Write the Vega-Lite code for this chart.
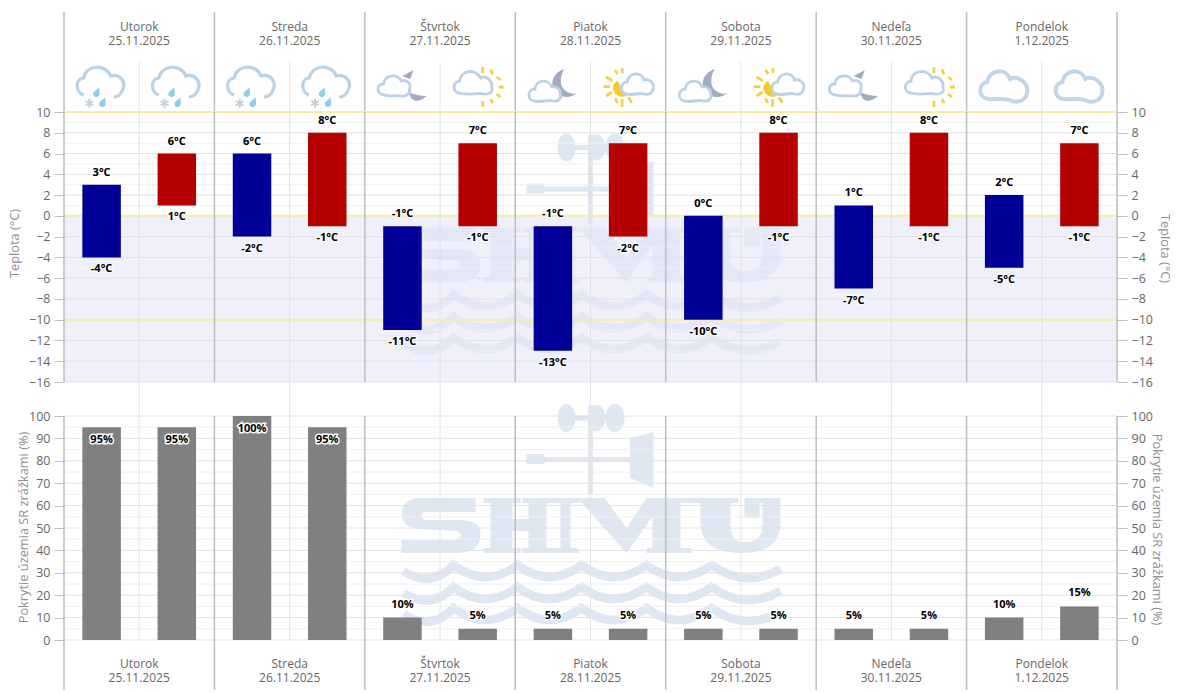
{"$schema":"https://vega.github.io/schema/vega-lite/v6.json","padding":{"left":8,"top":11,"right":0,"bottom":0},"background":"white","spacing":0,"bounds":"flush","config":{"view":{"stroke":null},"font":"Open Sans","axis":{"labelFont":"Open Sans","titleFont":"Open Sans","labelFontSize":12.5,"labelColor":"#666666","titleColor":"#8f8f8f","titleFontSize":12.8,"titleFontWeight":"normal","tickColor":"#c0c0c0","tickSize":10,"labelPadding":4,"domain":false,"grid":false,"labelOverlap":false},"text":{"font":"Open Sans"}},"datasets":{"slots":[{"t":"2025-11-25T06:00:00Z","part":"noc","min":-4,"max":3,"hi":"3°C","lo":"-4°C","cover":95,"pct":"95%","icon":"rainsnow"},{"t":"2025-11-25T18:00:00Z","part":"den","min":1,"max":6,"hi":"6°C","lo":"1°C","cover":95,"pct":"95%","icon":"rainsnow"},{"t":"2025-11-26T06:00:00Z","part":"noc","min":-2,"max":6,"hi":"6°C","lo":"-2°C","cover":100,"pct":"100%","icon":"rainsnow"},{"t":"2025-11-26T18:00:00Z","part":"den","min":-1,"max":8,"hi":"8°C","lo":"-1°C","cover":95,"pct":"95%","icon":"rainsnow"},{"t":"2025-11-27T06:00:00Z","part":"noc","min":-11,"max":-1,"hi":"-1°C","lo":"-11°C","cover":10,"pct":"10%","icon":"cloudmoon"},{"t":"2025-11-27T18:00:00Z","part":"den","min":-1,"max":7,"hi":"7°C","lo":"-1°C","cover":5,"pct":"5%","icon":"cloudsun"},{"t":"2025-11-28T06:00:00Z","part":"noc","min":-13,"max":-1,"hi":"-1°C","lo":"-13°C","cover":5,"pct":"5%","icon":"moon"},{"t":"2025-11-28T18:00:00Z","part":"den","min":-2,"max":7,"hi":"7°C","lo":"-2°C","cover":5,"pct":"5%","icon":"sun"},{"t":"2025-11-29T06:00:00Z","part":"noc","min":-10,"max":0,"hi":"0°C","lo":"-10°C","cover":5,"pct":"5%","icon":"moon"},{"t":"2025-11-29T18:00:00Z","part":"den","min":-1,"max":8,"hi":"8°C","lo":"-1°C","cover":5,"pct":"5%","icon":"sun"},{"t":"2025-11-30T06:00:00Z","part":"noc","min":-7,"max":1,"hi":"1°C","lo":"-7°C","cover":5,"pct":"5%","icon":"cloudmoon"},{"t":"2025-11-30T18:00:00Z","part":"den","min":-1,"max":8,"hi":"8°C","lo":"-1°C","cover":5,"pct":"5%","icon":"cloudsun"},{"t":"2025-12-01T06:00:00Z","part":"noc","min":-5,"max":2,"hi":"2°C","lo":"-5°C","cover":10,"pct":"10%","icon":"cloud"},{"t":"2025-12-01T18:00:00Z","part":"den","min":-1,"max":7,"hi":"7°C","lo":"-1°C","cover":15,"pct":"15%","icon":"cloud"}],"days":[{"t":"2025-11-25T12:00:00Z","label":"Utorok|25.11.2025"},{"t":"2025-11-26T12:00:00Z","label":"Streda|26.11.2025"},{"t":"2025-11-27T12:00:00Z","label":"Štvrtok|27.11.2025"},{"t":"2025-11-28T12:00:00Z","label":"Piatok|28.11.2025"},{"t":"2025-11-29T12:00:00Z","label":"Sobota|29.11.2025"},{"t":"2025-11-30T12:00:00Z","label":"Nedeľa|30.11.2025"},{"t":"2025-12-01T12:00:00Z","label":"Pondelok|1.12.2025"}],"edges":[{"t":"2025-11-25T00:00:00Z"},{"t":"2025-11-26T00:00:00Z"},{"t":"2025-11-27T00:00:00Z"},{"t":"2025-11-28T00:00:00Z"},{"t":"2025-11-29T00:00:00Z"},{"t":"2025-11-30T00:00:00Z"},{"t":"2025-12-01T00:00:00Z"},{"t":"2025-12-02T00:00:00Z"}],"tempMinor":[{"y":9},{"y":7},{"y":5},{"y":3},{"y":1},{"y":-1},{"y":-3},{"y":-5},{"y":-7},{"y":-9},{"y":-11},{"y":-13},{"y":-15}],"tempMajor":[{"y":10},{"y":8},{"y":6},{"y":4},{"y":2},{"y":0},{"y":-2},{"y":-4},{"y":-6},{"y":-8},{"y":-10},{"y":-12},{"y":-14},{"y":-16}],"coverMinor":[{"y":5},{"y":15},{"y":25},{"y":35},{"y":45},{"y":55},{"y":65},{"y":75},{"y":85},{"y":95}],"coverMajor":[{"y":0},{"y":10},{"y":20},{"y":30},{"y":40},{"y":50},{"y":60},{"y":70},{"y":80},{"y":90},{"y":100}]},"vconcat":[{"width":1053,"height":50,"layer":[{"data":{"name":"edges"},"mark":{"type":"rule","color":"#bdbdbd","strokeWidth":1.5},"encoding":{"x":{"field":"t","type":"temporal","scale":{"type":"utc","padding":0,"domain":["2025-11-25T00:00:00Z","2025-12-02T00:00:00Z"]},"axis":{"orient":"bottom","labels":false,"ticks":false,"domain":true,"domainColor":"#bdbdbd","domainWidth":1.5,"title":null}}}},{"data":{"name":"days"},"mark":{"type":"text","lineBreak":"|","lineHeight":14,"fontSize":12,"color":"#666666","dy":-10},"encoding":{"x":{"field":"t","type":"temporal","scale":{"type":"utc"},"axis":null},"text":{"field":"label"}}}]},{"width":1053,"height":50,"data":{"name":"slots"},"layer":[{"data":{"name":"edges"},"mark":{"type":"rule","color":"#bdbdbd","strokeWidth":1.5},"encoding":{"x":{"field":"t","type":"temporal","scale":{"type":"utc","padding":0,"domain":["2025-11-25T00:00:00Z","2025-12-02T00:00:00Z"]},"axis":null}}},{"data":{"name":"days"},"mark":{"type":"rule","color":"#e4e4e4","strokeWidth":1},"encoding":{"x":{"field":"t","type":"temporal","scale":{"type":"utc"},"axis":null}}},{"transform":[{"filter":"datum.icon=='cloudsun'"}],"mark":{"type":"point","size":4,"filled":false,"stroke":"#f2d14b","strokeWidth":2.8,"opacity":1,"shape":"M5,-20 L5,-14 M13,-17.5 L15,-12.5 M19,-10 L23,-7 M21,0 L26,0 M19,7 L23,10 M13,12 L15,16 M5,14 L5,20"},"encoding":{"x":{"field":"t","type":"temporal","scale":{"type":"utc"},"axis":null}}},{"transform":[{"filter":"datum.icon=='sun'"}],"mark":{"type":"point","size":4,"filled":false,"stroke":"#f2d14b","strokeWidth":2.8,"opacity":1,"shape":"M-24.7,-0.3 L-18,-0.3 M-22,-10 L-15.7,-6.3 M-13,-17 L-10.3,-13 M-5.7,-18.7 L-5.7,-13.7 M-22,9 L-16,5 M-13,11.3 L-10.7,16 M-6,12.3 L-6,19.7 M0.3,10.3 L3.7,15.7"},"encoding":{"x":{"field":"t","type":"temporal","scale":{"type":"utc"},"axis":null}}},{"transform":[{"filter":"datum.icon=='sun'"}],"mark":{"type":"point","size":4,"filled":true,"fill":"#f5ca2c","strokeWidth":0,"opacity":1,"shape":"M-10.7,-6.3 L-1.3,9 C-7,11 -13,9 -15,3 C-16,-1 -14,-4 -10.7,-6.3Z"},"encoding":{"x":{"field":"t","type":"temporal","scale":{"type":"utc"},"axis":null}}},{"transform":[{"filter":"datum.icon=='cloudmoon'"}],"mark":{"type":"point","size":4,"filled":true,"fill":"#a3abc3","strokeWidth":0,"opacity":1,"shape":"M0,-11 L11,-17 L7.7,-7.7 Z M6.7,5.3 C12,8 18,9 24.3,9 C20,13 16,14 12.7,13.7 C9,13 7,9 6.7,5.3 Z"},"encoding":{"x":{"field":"t","type":"temporal","scale":{"type":"utc"},"axis":null}}},{"transform":[{"filter":"datum.icon=='moon'"}],"mark":{"type":"point","size":4,"filled":true,"fill":"#a3abc3","strokeWidth":0,"opacity":1,"shape":"M11.3,-17.7 C1,-15 -3,-5 1,3 C5,11 17,12 24,6.3 C16,8 9,3 8,-4 C7.5,-9 9,-14 11.3,-17.7 Z"},"encoding":{"x":{"field":"t","type":"temporal","scale":{"type":"utc"},"axis":null}}},{"transform":[{"filter":"datum.icon=='rainsnow'"}],"mark":{"type":"point","size":4,"filled":false,"stroke":"#b9d2e6","strokeWidth":3.2,"opacity":1,"shape":"M-18,8 C-26,6 -27,-8 -18,-9 C-16,-22 4,-24 9,-11 C18,-14 25,-5 21,3 C19,8 16,10 12,10"},"encoding":{"x":{"field":"t","type":"temporal","scale":{"type":"utc"},"axis":null}}},{"transform":[{"filter":"datum.icon=='rainsnow'"}],"mark":{"type":"point","size":4,"filled":true,"fill":"#8fcde8","strokeWidth":0,"opacity":1,"shape":"M-2.5,0 C-2.5,4 -1,7 -3,9 C-5,11 -9,9.5 -8.5,6.5 C-8,4 -4.5,3 -2.5,0 Z M3.5,10 C3.5,14 5,17 3,19 C1,21 -3,19.5 -2.5,16.5 C-2,14 1.5,13 3.5,10 Z"},"encoding":{"x":{"field":"t","type":"temporal","scale":{"type":"utc"},"axis":null}}},{"transform":[{"filter":"datum.icon=='rainsnow'"}],"mark":{"type":"point","size":4,"filled":false,"stroke":"#c5cfdf","strokeWidth":2,"opacity":1,"shape":"M-12.3,11.8 L-12.3,20.8 M-16.2,14 L-8.4,18.5 M-16.2,18.5 L-8.4,14"},"encoding":{"x":{"field":"t","type":"temporal","scale":{"type":"utc"},"axis":null}}},{"transform":[{"filter":"datum.icon=='cloudmoon'"}],"mark":{"type":"point","size":4,"filled":true,"fill":"white","stroke":"#bcd1e4","strokeWidth":2.8,"opacity":1,"shape":"M-18,8 C-26,8 -27,-3 -19,-3 C-18,-12 -6,-14 -1,-6 C5,-8 9,-3 7,2 C8,7 3,10 -2,9 C-7,8 -12,10 -18,8 Z"},"encoding":{"x":{"field":"t","type":"temporal","scale":{"type":"utc"},"axis":null}}},{"transform":[{"filter":"datum.icon=='cloudsun'"}],"mark":{"type":"point","size":4,"filled":true,"fill":"white","stroke":"#bcd1e4","strokeWidth":2.8,"opacity":1,"shape":"M-18,6 C-25,6 -26,-5 -18,-6 C-17,-17 -2,-19 3,-9 C9,-12 15,-6 14,0 C16,5 11,8 6,7 C-1,5 -9,9 -18,6 Z"},"encoding":{"x":{"field":"t","type":"temporal","scale":{"type":"utc"},"axis":null}}},{"transform":[{"filter":"datum.icon=='moon'"}],"mark":{"type":"point","size":4,"filled":true,"fill":"white","stroke":"#bcd1e4","strokeWidth":2.8,"opacity":1,"shape":"M-18,14 C-26,14 -26,2 -18,2 C-17,-8 -4,-8 -1,0 C4,-1 8,3 7.5,7 C9,11 5,15 0,14 C-6,12 -12,16 -18,14 Z"},"encoding":{"x":{"field":"t","type":"temporal","scale":{"type":"utc"},"axis":null}}},{"transform":[{"filter":"datum.icon=='sun'"}],"mark":{"type":"point","size":4,"filled":true,"fill":"white","stroke":"#bcd1e4","strokeWidth":2.8,"opacity":1,"shape":"M-1,7 C-9,6 -8,-5 -1,-5 C1,-15 13,-16 16,-7 C21,-9 27,-3 25,2 C24,7 20,8 16,7 C10,5 5,9 -1,7 Z"},"encoding":{"x":{"field":"t","type":"temporal","scale":{"type":"utc"},"axis":null}}},{"transform":[{"filter":"datum.icon=='cloud'"}],"mark":{"type":"point","size":4,"filled":true,"fill":"white","stroke":"#c0d6e8","strokeWidth":4,"opacity":1,"shape":"M-15,12 C-26,12 -27,-3 -17,-5 C-15,-17 1,-20 6,-8 C14,-12 24,-4 23,4 C23,13 15,16 8,14 C0,10 -7,13 -15,12 Z"},"encoding":{"x":{"field":"t","type":"temporal","scale":{"type":"utc"},"axis":null}}}]},{"width":1053,"height":270,"resolve":{"axis":{"y":"independent"}},"layer":[{"data":{"values":[{"t":"2025-11-28T12:00:00Z","y":-4}]},"mark":{"type":"point","size":4,"filled":true,"fill":"#dfe7f3","strokeWidth":0,"opacity":1,"shape":"M-33,-110 C-33,-118 -29,-124 -24,-124 C-19,-124 -15,-118 -15,-110 C-15,-102 -19,-96 -24,-96 C-29,-96 -33,-102 -33,-110 Z M-3,-110 C-3,-117 1,-123 6,-123 C11,-123 15,-117 15,-110 C15,-103 11,-97 6,-97 C1,-97 -3,-103 -3,-110 Z M15,-110 C15,-118 19,-124 24.5,-124 C30,-124 34,-118 34,-110 C34,-102 30,-96 24.5,-96 C19,-96 15,-102 15,-110 Z M-24,-112.5 L24,-112.5 L24,-107.5 L-24,-107.5 Z M-2.5,-123 L2.5,-123 L2.5,-33 L-2.5,-33 Z M-64,-71 L40,-71 L40,-66 L-64,-66 Z M-64,-74 L-46,-74 L-46,-64 L-64,-64 Z M39.5,-90 L63,-96 L63,-40 L39.5,-50 Z M-170,-30 L-115,-30 L-115,-16 L-165,-16 C-170,-16 -170,-9 -165,-8 L-128,-8 C-112,-6 -110,0 -110,6 C-110,18 -118,25 -135,25 L-189,25 L-189,12 L-135,12 C-128,12 -128,3 -135,3 L-170,1 C-185,0 -189,-8 -189,-13 C-189,-24 -182,-30 -170,-30 Z M-107,-30 L-70,-30 L-70,-25 L-107,-25 Z M-100,-30 L-78,-30 L-78,25 L-100,25 Z M-107,20 L-70,20 L-70,25 L-107,25 Z M-68,-30 L-36,-30 L-36,-25 L-68,-25 Z M-62,-30 L-44,-30 L-44,25 L-62,25 Z M-68,20 L-36,20 L-36,25 L-68,25 Z M-78,-9 L-62,-9 L-62,3 L-78,3 Z M-37,-30 L-10,-30 L-10,-25 L-37,-25 Z M-30,-30 L-20,-30 L-20,25 L-30,25 Z M-37,20 L-12,20 L-12,25 L-37,25 Z M-13,-30 L14,-30 L36,0 L56,-30 L75,-30 L36,25 Z M62,-30 L90,-30 L90,25 L62,25 Z M56,-30 L100,-30 L100,-25 L56,-25 Z M56,20 L101,20 L101,25 L56,25 Z M100,-30 L148,-30 L148,-25 L100,-25 Z M110,-30 L140,-30 L140,-5 L110,-5 Z M165,-30 L190,-30 L190,-25 L165,-25 Z M172,-30 L190,-30 L190,-5 L172,-5 Z M154,-30 L169,-30 L169,-10 L154,-10 Z M110,-5 L140,-5 C140,10 145,14 155,14 C165,14 172,10 172,-5 L190,-5 C190,16 175,25 152,25 C125,25 110,16 110,-5 Z"},"encoding":{"x":{"field":"t","type":"temporal","scale":{"type":"utc","padding":0,"domain":["2025-11-25T00:00:00Z","2025-12-02T00:00:00Z"]},"axis":null},"y":{"field":"y","type":"quantitative","scale":{"domain":[-16,10],"nice":false,"zero":false},"axis":null}}},{"data":{"values":[{"t":"2025-11-28T12:00:00Z","y":-4}]},"mark":{"type":"point","size":4,"filled":false,"stroke":"#dfe7f3","strokeWidth":8.5,"opacity":1,"shape":"M-187,43 Q-160,61 -137,37 Q-105,61 -73,37 Q-41,61 -9,37 Q23,61 56,37 Q88,61 121,37 Q155,61 190,41 M-187,65 Q-160,83 -137,59 Q-105,83 -73,59 Q-41,83 -9,59 Q23,83 56,59 Q88,83 121,59 Q155,83 190,63 M-187,86 Q-160,104 -137,80 Q-105,104 -73,80 Q-41,104 -9,80 Q23,104 56,80 Q88,104 121,80 Q155,104 190,84"},"encoding":{"x":{"field":"t","type":"temporal","scale":{"type":"utc"},"axis":null},"y":{"field":"y","type":"quantitative","axis":null}}},{"data":{"values":[{"t":"2025-11-25T00:00:00Z","t2":"2025-12-02T00:00:00Z","y":0,"y2":-16}]},"mark":{"type":"rect","color":"#e6e6fa","opacity":0.62},"encoding":{"x":{"field":"t","type":"temporal","scale":{"type":"utc"},"axis":null},"x2":{"field":"t2"},"y":{"field":"y","type":"quantitative","axis":null},"y2":{"field":"y2"}}},{"data":{"name":"tempMinor"},"mark":{"type":"rule","color":"#f0f0f0","strokeWidth":1},"encoding":{"y":{"field":"y","type":"quantitative","axis":{"orient":"left","values":[10,8,6,4,2,0,-2,-4,-6,-8,-10,-12,-14,-16],"title":"Teplota (°C)","titleX":-43,"titleY":131}}}},{"data":{"name":"tempMajor"},"mark":{"type":"rule","color":"#e2e2e2","strokeWidth":1},"encoding":{"y":{"field":"y","type":"quantitative","axis":{"orient":"right","values":[10,8,6,4,2,0,-2,-4,-6,-8,-10,-12,-14,-16],"title":"Teplota (°C)","titleX":40,"titleY":136}}}},{"data":{"values":[{"y":10},{"y":0},{"y":-10}]},"mark":{"type":"rule","color":"#f6ef9f","strokeWidth":2},"encoding":{"y":{"field":"y","type":"quantitative","axis":null}}},{"data":{"name":"days"},"mark":{"type":"rule","color":"#e0e0e4","strokeWidth":1},"encoding":{"x":{"field":"t","type":"temporal","scale":{"type":"utc"},"axis":null}}},{"data":{"name":"edges"},"mark":{"type":"rule","color":"#bdbdbd","strokeWidth":1.5},"encoding":{"x":{"field":"t","type":"temporal","scale":{"type":"utc"},"axis":null}}},{"data":{"name":"slots"},"mark":{"type":"bar","width":38.5},"encoding":{"x":{"field":"t","type":"temporal","scale":{"type":"utc"},"axis":null},"y":{"field":"max","type":"quantitative","axis":null},"y2":{"field":"min"},"color":{"field":"part","type":"nominal","legend":null,"scale":{"domain":["noc","den"],"range":["#000099","#b50000"]}}}},{"data":{"name":"slots"},"mark":{"type":"text","fontSize":11,"fontWeight":"bold","dy":-12,"stroke":"white","strokeWidth":2.5,"strokeOpacity":0.8},"encoding":{"x":{"field":"t","type":"temporal","scale":{"type":"utc"},"axis":null},"y":{"field":"max","type":"quantitative","axis":null},"text":{"field":"hi"}}},{"data":{"name":"slots"},"mark":{"type":"text","fontSize":11,"fontWeight":"bold","dy":12,"stroke":"white","strokeWidth":2.5,"strokeOpacity":0.8},"encoding":{"x":{"field":"t","type":"temporal","scale":{"type":"utc"},"axis":null},"y":{"field":"min","type":"quantitative","axis":null},"text":{"field":"lo"}}},{"data":{"name":"slots"},"mark":{"type":"text","fontSize":11,"fontWeight":"bold","dy":-12,"color":"black"},"encoding":{"x":{"field":"t","type":"temporal","scale":{"type":"utc"},"axis":null},"y":{"field":"max","type":"quantitative","axis":null},"text":{"field":"hi"}}},{"data":{"name":"slots"},"mark":{"type":"text","fontSize":11,"fontWeight":"bold","dy":12,"color":"black"},"encoding":{"x":{"field":"t","type":"temporal","scale":{"type":"utc"},"axis":null},"y":{"field":"min","type":"quantitative","axis":null},"text":{"field":"lo"}}}]},{"width":1053,"height":34,"data":{"name":"days"},"mark":{"type":"rule","color":"#e4e4e4","strokeWidth":1},"encoding":{"x":{"field":"t","type":"temporal","scale":{"type":"utc","padding":0,"domain":["2025-11-25T00:00:00Z","2025-12-02T00:00:00Z"]},"axis":null}}},{"width":1053,"height":224,"resolve":{"axis":{"y":"independent"}},"layer":[{"data":{"values":[{"t":"2025-11-28T12:00:00Z","y":50}]},"mark":{"type":"point","size":4,"filled":true,"fill":"#dfe7f3","strokeWidth":0,"opacity":1,"shape":"M-33,-110 C-33,-118 -29,-124 -24,-124 C-19,-124 -15,-118 -15,-110 C-15,-102 -19,-96 -24,-96 C-29,-96 -33,-102 -33,-110 Z M-3,-110 C-3,-117 1,-123 6,-123 C11,-123 15,-117 15,-110 C15,-103 11,-97 6,-97 C1,-97 -3,-103 -3,-110 Z M15,-110 C15,-118 19,-124 24.5,-124 C30,-124 34,-118 34,-110 C34,-102 30,-96 24.5,-96 C19,-96 15,-102 15,-110 Z M-24,-112.5 L24,-112.5 L24,-107.5 L-24,-107.5 Z M-2.5,-123 L2.5,-123 L2.5,-33 L-2.5,-33 Z M-64,-71 L40,-71 L40,-66 L-64,-66 Z M-64,-74 L-46,-74 L-46,-64 L-64,-64 Z M39.5,-90 L63,-96 L63,-40 L39.5,-50 Z M-170,-30 L-115,-30 L-115,-16 L-165,-16 C-170,-16 -170,-9 -165,-8 L-128,-8 C-112,-6 -110,0 -110,6 C-110,18 -118,25 -135,25 L-189,25 L-189,12 L-135,12 C-128,12 -128,3 -135,3 L-170,1 C-185,0 -189,-8 -189,-13 C-189,-24 -182,-30 -170,-30 Z M-107,-30 L-70,-30 L-70,-25 L-107,-25 Z M-100,-30 L-78,-30 L-78,25 L-100,25 Z M-107,20 L-70,20 L-70,25 L-107,25 Z M-68,-30 L-36,-30 L-36,-25 L-68,-25 Z M-62,-30 L-44,-30 L-44,25 L-62,25 Z M-68,20 L-36,20 L-36,25 L-68,25 Z M-78,-9 L-62,-9 L-62,3 L-78,3 Z M-37,-30 L-10,-30 L-10,-25 L-37,-25 Z M-30,-30 L-20,-30 L-20,25 L-30,25 Z M-37,20 L-12,20 L-12,25 L-37,25 Z M-13,-30 L14,-30 L36,0 L56,-30 L75,-30 L36,25 Z M62,-30 L90,-30 L90,25 L62,25 Z M56,-30 L100,-30 L100,-25 L56,-25 Z M56,20 L101,20 L101,25 L56,25 Z M100,-30 L148,-30 L148,-25 L100,-25 Z M110,-30 L140,-30 L140,-5 L110,-5 Z M165,-30 L190,-30 L190,-25 L165,-25 Z M172,-30 L190,-30 L190,-5 L172,-5 Z M154,-30 L169,-30 L169,-10 L154,-10 Z M110,-5 L140,-5 C140,10 145,14 155,14 C165,14 172,10 172,-5 L190,-5 C190,16 175,25 152,25 C125,25 110,16 110,-5 Z"},"encoding":{"x":{"field":"t","type":"temporal","scale":{"type":"utc","padding":0,"domain":["2025-11-25T00:00:00Z","2025-12-02T00:00:00Z"]},"axis":null},"y":{"field":"y","type":"quantitative","scale":{"domain":[0,100],"nice":false},"axis":null}}},{"data":{"values":[{"t":"2025-11-28T12:00:00Z","y":50}]},"mark":{"type":"point","size":4,"filled":false,"stroke":"#dfe7f3","strokeWidth":8.5,"opacity":1,"shape":"M-187,43 Q-160,61 -137,37 Q-105,61 -73,37 Q-41,61 -9,37 Q23,61 56,37 Q88,61 121,37 Q155,61 190,41 M-187,65 Q-160,83 -137,59 Q-105,83 -73,59 Q-41,83 -9,59 Q23,83 56,59 Q88,83 121,59 Q155,83 190,63 M-187,86 Q-160,104 -137,80 Q-105,104 -73,80 Q-41,104 -9,80 Q23,104 56,80 Q88,104 121,80 Q155,104 190,84"},"encoding":{"x":{"field":"t","type":"temporal","scale":{"type":"utc"},"axis":null},"y":{"field":"y","type":"quantitative","axis":null}}},{"data":{"name":"coverMinor"},"mark":{"type":"rule","color":"#f0f0f0","strokeWidth":1},"encoding":{"y":{"field":"y","type":"quantitative","axis":{"orient":"left","values":[0,10,20,30,40,50,60,70,80,90,100],"title":"Pokrytie územia SR zrážkami (%)","titleX":-34,"titleY":111}}}},{"data":{"name":"coverMajor"},"mark":{"type":"rule","color":"#e2e2e2","strokeWidth":1},"encoding":{"y":{"field":"y","type":"quantitative","axis":{"orient":"right","values":[0,10,20,30,40,50,60,70,80,90,100],"title":"Pokrytie územia SR zrážkami (%)","titleX":32,"titleY":113}}}},{"data":{"name":"days"},"mark":{"type":"rule","color":"#e4e4e4","strokeWidth":1},"encoding":{"x":{"field":"t","type":"temporal","scale":{"type":"utc"},"axis":null}}},{"data":{"name":"edges"},"mark":{"type":"rule","color":"#bdbdbd","strokeWidth":1.5},"encoding":{"x":{"field":"t","type":"temporal","scale":{"type":"utc"},"axis":{"orient":"bottom","labels":false,"ticks":false,"domain":true,"domainColor":"#c4c4c4","domainWidth":2,"title":null}}}},{"data":{"name":"slots"},"mark":{"type":"bar","width":38.5,"color":"#808080"},"encoding":{"x":{"field":"t","type":"temporal","scale":{"type":"utc"},"axis":null},"y":{"field":"cover","type":"quantitative","axis":null}}},{"data":{"name":"slots"},"transform":[{"filter":"datum.cover>=90"}],"mark":{"type":"text","fontSize":11,"fontWeight":"bold","dy":13,"stroke":"white","strokeWidth":3},"encoding":{"x":{"field":"t","type":"temporal","scale":{"type":"utc"},"axis":null},"y":{"field":"cover","type":"quantitative","axis":null},"text":{"field":"pct"}}},{"data":{"name":"slots"},"transform":[{"filter":"datum.cover>=90"}],"mark":{"type":"text","fontSize":11,"fontWeight":"bold","dy":13,"color":"black"},"encoding":{"x":{"field":"t","type":"temporal","scale":{"type":"utc"},"axis":null},"y":{"field":"cover","type":"quantitative","axis":null},"text":{"field":"pct"}}},{"data":{"name":"slots"},"transform":[{"filter":"datum.cover<90"}],"mark":{"type":"text","fontSize":11,"fontWeight":"bold","dy":-13,"stroke":"white","strokeWidth":2.5},"encoding":{"x":{"field":"t","type":"temporal","scale":{"type":"utc"},"axis":null},"y":{"field":"cover","type":"quantitative","axis":null},"text":{"field":"pct"}}},{"data":{"name":"slots"},"transform":[{"filter":"datum.cover<90"}],"mark":{"type":"text","fontSize":11,"fontWeight":"bold","dy":-13,"color":"black"},"encoding":{"x":{"field":"t","type":"temporal","scale":{"type":"utc"},"axis":null},"y":{"field":"cover","type":"quantitative","axis":null},"text":{"field":"pct"}}}]},{"width":1053,"height":50,"layer":[{"data":{"name":"edges"},"mark":{"type":"rule","color":"#bdbdbd","strokeWidth":1.5},"encoding":{"x":{"field":"t","type":"temporal","scale":{"type":"utc","padding":0,"domain":["2025-11-25T00:00:00Z","2025-12-02T00:00:00Z"]},"axis":null}}},{"data":{"name":"days"},"mark":{"type":"text","lineBreak":"|","lineHeight":14,"fontSize":12,"color":"#666666","dy":-1.5},"encoding":{"x":{"field":"t","type":"temporal","scale":{"type":"utc"},"axis":null},"text":{"field":"label"}}}]}]}
